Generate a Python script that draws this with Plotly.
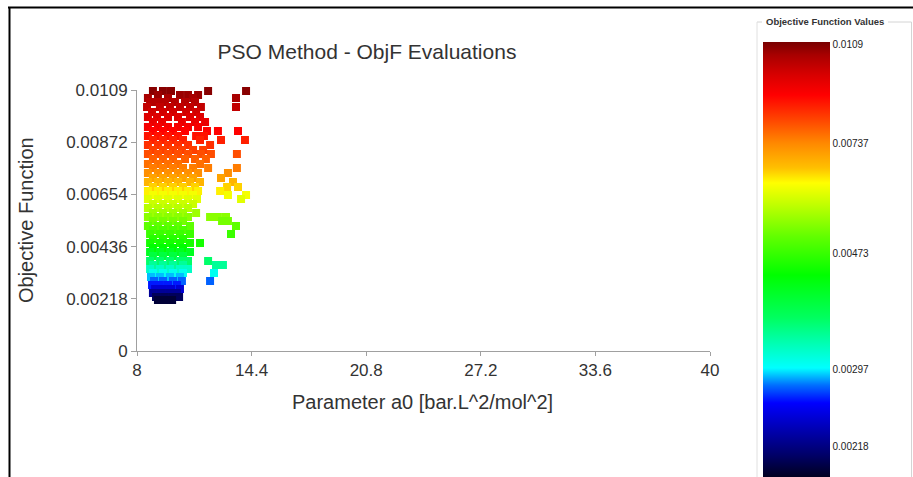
import numpy as np
import plotly.graph_objects as go

# ---------------- data ----------------
# objective-function levels (rows of evaluations) and the a0 values found on each row
OBJF_LEVELS = [
    0.010858, 0.010691, 0.010565, 0.010398, 0.010189, 0.009981, 0.009772, 0.009563,
    0.009354, 0.009187, 0.008978, 0.008811, 0.008603, 0.008394, 0.008227, 0.008018,
    0.007809, 0.007642, 0.007433, 0.007224, 0.007057, 0.006849, 0.006682, 0.006515,
    0.006348, 0.006139, 0.005972, 0.005763, 0.005596, 0.005429, 0.005220, 0.005053,
    0.004886, 0.004677, 0.004510, 0.004301, 0.004134, 0.003967, 0.003758, 0.003591,
    0.003424, 0.003257, 0.003090, 0.002923, 0.002756, 0.002589, 0.002422, 0.002255,
    0.002130,
]
A0_BY_LEVEL = [
    [8.89, 9.45, 9.90, 11.97, 14.09],
    [9.17, 10.40, 10.85, 11.41],
    [8.61, 9.73, 11.13, 13.53],
    [8.73, 9.12, 9.56, 10.12, 10.68, 11.24],
    [8.56, 9.28, 9.84, 10.40, 10.96, 11.57, 13.53],
    [8.84, 9.45, 10.01, 10.74, 11.30],
    [8.61, 9.12, 9.73, 10.29, 10.96, 11.52],
    [8.89, 9.40, 10.51, 11.24, 11.80],
    [8.61, 9.17, 9.73, 10.29, 10.85, 11.41],
    [8.89, 9.45, 10.01, 10.68, 11.91, 12.52, 13.64],
    [8.61, 9.17, 9.73, 10.29, 11.30, 11.74],
    [8.89, 9.45, 10.01, 10.57, 11.52, 12.69, 14.03],
    [8.61, 9.17, 9.73, 10.29, 10.85, 12.08],
    [8.89, 9.45, 10.01, 10.51, 11.13, 11.69],
    [8.61, 9.17, 9.73, 10.29, 10.85, 11.57, 12.13, 13.58],
    [8.89, 9.45, 10.01, 10.68, 11.24, 11.85],
    [8.61, 9.17, 9.73, 10.29, 11.52],
    [8.89, 9.45, 10.01, 10.57, 11.13, 11.97, 13.58],
    [8.61, 9.17, 9.73, 10.29, 10.85, 11.41, 13.08],
    [8.89, 9.45, 10.01, 10.57, 11.13, 12.69],
    [8.61, 9.17, 9.73, 10.29, 10.96, 11.52, 13.36],
    [8.89, 9.45, 10.01, 10.57, 11.24, 13.03, 13.64],
    [8.61, 9.17, 9.73, 10.29, 10.85, 11.41, 12.64],
    [8.89, 9.45, 10.01, 10.57, 11.13, 13.08, 14.09],
    [8.61, 9.17, 9.73, 10.29, 10.85, 11.35, 13.81],
    [8.89, 9.45, 10.01, 10.57, 11.13],
    [8.61, 9.17, 9.73, 10.29, 10.85],
    [8.89, 9.45, 10.01, 10.57, 11.30],
    [8.61, 9.17, 9.73, 10.29, 10.85, 12.08, 12.52, 12.97],
    [8.89, 9.45, 10.01, 10.57, 12.75, 13.08],
    [8.61, 9.17, 9.73, 10.29, 10.96, 13.53],
    [8.89, 9.45, 10.01, 10.57],
    [8.73, 9.28, 9.84, 10.40, 10.96, 13.25],
    [8.89, 9.45, 10.01, 10.57],
    [8.73, 9.28, 9.84, 10.40, 10.96, 11.52],
    [8.89, 9.45, 10.01, 10.57],
    [8.73, 9.28, 9.84, 10.40, 10.96],
    [8.89, 9.45, 10.01, 10.57],
    [8.73, 9.28, 9.84, 10.40, 10.85, 11.97],
    [8.89, 9.45, 10.01, 10.57, 12.41, 12.80],
    [8.73, 9.28, 9.84, 10.40, 10.85],
    [8.89, 9.45, 10.01, 10.57, 12.30],
    [8.78, 9.28, 9.84, 10.40],
    [8.95, 9.45, 10.01, 10.51, 12.08],
    [8.84, 9.28, 9.73, 10.23],
    [9.01, 9.45, 9.90, 10.40],
    [8.89, 9.34, 9.79, 10.23],
    [9.06, 9.51, 9.96, 10.35],
    [9.17, 9.56, 9.96],
]

X_TICKS = [8, 14.4, 20.8, 27.2, 33.6, 40]
Y_TICKS = [0, 0.00218, 0.00436, 0.00654, 0.00872, 0.0109]
Y_TICK_TEXT = ["0", "0.00218", "0.00436", "0.00654", "0.00872", "0.0109"]

CBAR_TICKS = [0.0109, 0.00737, 0.00473, 0.00297, 0.00218]
CBAR_TICK_TEXT = ["0.0109", "0.00737", "0.00473", "0.00297", "0.00218"]

# ---------------- layout constants ----------------
W, H = 913, 477
L, R, T, B = 137, 710, 90, 351           # plot-area pixel box
PW, PH = R - L, B - T

def px(xp):  # pixel x -> paper
    return (xp - L) / PW

def py(yp):  # pixel y -> paper
    return (B - yp) / PH

# colour bar: from pixel row 42 (top) to 477 (bottom)
CB_TOP, CB_BOT = 42, 477
CB_LEN = CB_BOT - CB_TOP

def rowpos(r):
    return (CB_BOT - r) / CB_LEN

# where the colour-bar labels sit (bar is non-linear in value)
LABEL_VALUE_ANCHORS = [0.00186, 0.00218, 0.00297, 0.00473, 0.00737, 0.0109, 0.01097]
LABEL_ROW_ANCHORS = [477, 446, 369, 253, 143, 44, 42]
# how the marker colours sit against the bar's gradient
COLOR_VALUE_ANCHORS = [0.00205, 0.0023, 0.0027, 0.0032, 0.0043, 0.0066, 0.0075, 0.0092, 0.0108, 0.0110]
COLOR_ROW_ANCHORS = [477, 455, 403, 368, 275, 183, 143, 95, 48, 42]

def label_pos(v):
    return np.interp(v, LABEL_VALUE_ANCHORS, [rowpos(r) for r in LABEL_ROW_ANCHORS])

def color_pos(v):
    return np.interp(v, COLOR_VALUE_ANCHORS, [rowpos(r) for r in COLOR_ROW_ANCHORS])

COLORSCALE = [
    [rowpos(477), "#000020"],
    [rowpos(455), "#000068"],
    [rowpos(430), "#0000b0"],
    [rowpos(403), "#0000ff"],
    [rowpos(385), "#0070ff"],
    [rowpos(368), "#00ffff"],
    [rowpos(345), "#00ffb8"],
    [rowpos(318), "#00ff60"],
    [rowpos(275), "#00ff00"],
    [rowpos(237), "#60ff00"],
    [rowpos(205), "#c0ff00"],
    [rowpos(183), "#ffff00"],
    [rowpos(168), "#ffc000"],
    [rowpos(143), "#ff8800"],
    [rowpos(118), "#ff4000"],
    [rowpos(95), "#ff0000"],
    [rowpos(75), "#d80000"],
    [rowpos(55), "#a80000"],
    [rowpos(42), "#780000"],
]
COLORSCALE = sorted(COLORSCALE, key=lambda c: c[0])
COLORSCALE[0][0] = 0.0
COLORSCALE[-1][0] = 1.0

# ---------------- build ----------------
a0 = []
objf = []
for lvl, xs in zip(OBJF_LEVELS, A0_BY_LEVEL):
    for xv in xs:
        a0.append(xv)
        objf.append(lvl)
a0 = np.array(a0)
objf = np.array(objf)

FONT = "Liberation Sans, Arial, sans-serif"
TXT = "#333333"
AX = "#a0a0a0"

fig = go.Figure()
fig.add_trace(go.Scatter(
    x=a0, y=objf, mode="markers",
    cliponaxis=False,
    marker=dict(
        symbol="square", size=8, line=dict(width=0),
        color=color_pos(objf), cmin=0, cmax=1, colorscale=COLORSCALE,
        showscale=True,
        colorbar=dict(
            x=px(763), xanchor="left", xpad=0,
            y=py(CB_TOP), yanchor="top", ypad=0,
            lenmode="pixels", len=CB_LEN,
            thickness=67, thicknessmode="pixels",
            outlinewidth=0, ticks="", ticklen=0,
            tickvals=list(label_pos(np.array(CBAR_TICKS))),
            ticktext=CBAR_TICK_TEXT,
            tickfont=dict(family=FONT, size=10, color="#222222"),
        ),
    ),
    hoverinfo="x+y",
    showlegend=False,
))

fig.update_layout(
    width=W, height=H,
    margin=dict(l=L, r=W - R, t=T, b=H - B, autoexpand=False),
    paper_bgcolor="white", plot_bgcolor="white",
    font=dict(family=FONT, color=TXT),
    title=dict(text="PSO Method - ObjF Evaluations", x=px(367), xanchor="center",
               xref="paper", y=1 - 52 / H, yref="container", yanchor="middle",
               font=dict(size=21, color=TXT, family=FONT)),
    xaxis=dict(range=[8, 40], tickvals=X_TICKS, ticktext=[f"{v:g}" for v in X_TICKS],
               showline=True, linecolor=AX, linewidth=1, ticks="outside", ticklen=4,
               tickcolor=AX, showgrid=False, zeroline=False,
               tickfont=dict(size=17, color=TXT)),
    yaxis=dict(range=[0, 0.0109], tickvals=Y_TICKS, ticktext=Y_TICK_TEXT,
               showline=True, linecolor=AX, linewidth=1, ticks="outside", ticklen=5,
               tickcolor=AX, showgrid=False, zeroline=False,
               tickfont=dict(size=17, color=TXT)),
    annotations=[
        dict(text="Objective Function", x=px(26), y=py(220), xref="paper", yref="paper",
             showarrow=False, textangle=-90, xanchor="center", yanchor="middle",
             font=dict(size=20, color=TXT)),
        dict(text="Parameter a0 [bar.L^2/mol^2]", x=px(422), y=py(402), xref="paper",
             yref="paper", showarrow=False, xanchor="center", yanchor="middle",
             font=dict(size=20, color=TXT)),
        dict(text="<b>Objective Function Values</b>", x=px(764), y=py(21), xref="paper",
             yref="paper", showarrow=False, xanchor="left", yanchor="middle",
             font=dict(size=9.5, color="#333333")),
    ],
    shapes=[
        # outer black frame
        dict(type="line", xref="paper", yref="paper", x0=px(8), x1=px(914), y0=py(7.5), y1=py(7.5),
             line=dict(color="black", width=2)),
        dict(type="line", xref="paper", yref="paper", x0=px(9.5), x1=px(9.5), y0=py(7), y1=py(478),
             line=dict(color="black", width=2)),
        # legend group box
        dict(type="line", xref="paper", yref="paper", x0=px(757), x1=px(762), y0=py(22), y1=py(22),
             line=dict(color="#d4d4d4", width=1)),
        dict(type="line", xref="paper", yref="paper", x0=px(888), x1=px(911.5), y0=py(22), y1=py(22),
             line=dict(color="#d4d4d4", width=1)),
        dict(type="line", xref="paper", yref="paper", x0=px(757), x1=px(757), y0=py(22), y1=py(478),
             line=dict(color="#e0e0e0", width=1)),
        dict(type="line", xref="paper", yref="paper", x0=px(911.5), x1=px(911.5), y0=py(22), y1=py(478),
             line=dict(color="#d4d4d4", width=1)),
    ],
)

fig.write_html("out.html")
